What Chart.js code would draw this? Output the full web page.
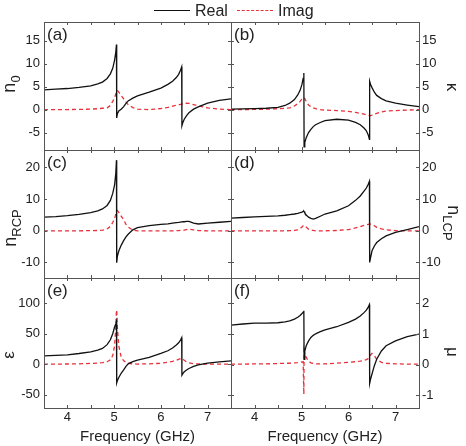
<!DOCTYPE html>
<html>
<head>
<meta charset="utf-8">
<script src="https://cdn.jsdelivr.net/npm/chart.js@4.4.0/dist/chart.umd.min.js"></script>
<style>
  body { margin: 0; background: #fff; }
  #wrap { position: relative; width: 466px; height: 446px; font-family: "Liberation Sans", Arial, sans-serif; color: #222; }
  #wrap canvas { position: absolute; left: 0; top: 0; }
  .ylab { position: absolute; white-space: nowrap; font-size: 18px; line-height: 1; transform: translate(-50%, -50%) rotate(-90deg); }
  .ylab.r { transform: translate(-50%, -50%) rotate(90deg); }
  .ylab sub { font-size: 13px; }
  .greek { font-size: 17px; }
  .leg { position: absolute; top: 2px; font-size: 16px; line-height: 18px; }
  .legline { position: absolute; top: 10px; width: 36px; height: 0; }
</style>
</head>
<body>
<div id="wrap">
  <canvas id="ca" width="466" height="446"></canvas>
  <canvas id="cb" width="466" height="446"></canvas>
  <canvas id="cc" width="466" height="446"></canvas>
  <canvas id="cd" width="466" height="446"></canvas>
  <canvas id="ce" width="466" height="446"></canvas>
  <canvas id="cf" width="466" height="446"></canvas>

  <div class="legline" style="left:154px; border-top:1.5px solid #111;"></div>
  <div class="leg" style="left:195px;">Real</div>
  <div class="legline" style="left:237px; border-top:1.5px dashed #e8313a;"></div>
  <div class="leg" style="left:278px;">Imag</div>

  <div class="ylab" style="left:11px; top:84px;">n<sub>0</sub></div>
  <div class="ylab" style="left:12px; top:228px;">n<sub>RCP</sub></div>
  <div class="ylab greek" style="left:8px; top:355px;">ε</div>
  <div class="ylab r greek" style="left:452px; top:87px;">κ</div>
  <div class="ylab r" style="left:452px; top:223px;">n<sub>LCP</sub></div>
  <div class="ylab r greek" style="left:452px; top:352px;">μ</div>
</div>
<script>
// frequency grid (GHz), shared by all panels
var freq = [3.5, 3.75, 4.0, 4.25, 4.5, 4.65, 4.75, 4.85, 4.92, 4.97,
            5.01, 5.035, 5.05, 5.055, 5.07, 5.1, 5.15, 5.2, 5.25, 5.3,
            5.4, 5.5, 5.75, 6.0, 6.15, 6.25, 6.33, 6.38, 6.42, 6.445,
            6.45, 6.47, 6.5, 6.55, 6.6, 6.7, 6.8, 7.0, 7.25, 7.5];

var n0Real = [4.3, 4.45, 4.6, 4.85, 5.2, 5.6, 6.0, 6.8, 7.8, 9.0,
              10.8, 12.5, 14.2, -1.8, -0.9, -0.3, 0.1, 0.6, 1.3, 1.9,
              2.5, 3.0, 3.8, 4.7, 5.5, 6.2, 7.0, 7.7, 8.6, 9.3,
              -3.5, -2.8, -2.1, -1.3, -0.7, 0.1, 0.6, 1.4, 2.0, 2.35];
var n0Imag = [0, 0, 0.02, 0.05, 0.1, 0.2, 0.3, 0.4, 0.9, 1.8,
              2.6, 3.4, 3.9, 4.0, 4.2, 3.8, 3.1, 2.4, 1.7, 1.1,
              0.45, 0.1, 0.0, 0.25, 0.5, 0.75, 0.95, 1.05, 1.15, 1.2,
              1.2, 1.25, 1.3, 1.4, 1.35, 1.1, 0.8, 0.4, 0.1, 0.0];

var kappaReal = [0.1, 0.15, 0.2, 0.3, 0.5, 0.9, 1.4, 2.2, 3.2, 4.2,
                 5.5, 6.8, 8.0, -8.1, -7.2, -6.1, -5.0, -4.3, -3.7, -3.3,
                 -2.8, -2.4, -2.1, -2.3, -2.8, -3.3, -4.0, -4.6, -5.5, -6.5,
                 6.2, 5.5, 4.8, 3.8, 3.1, 2.4, 1.9, 1.4, 1.0, 0.65];
var kappaImag = [0, 0, 0.05, 0.1, 0.2, 0.3, 0.4, 0.8, 1.3, 1.8,
                 2.3, 2.6, 2.6, 2.6, 2.4, 1.8, 1.0, 0.6, 0.4, 0.2,
                 0.0, -0.1, -0.2, -0.4, -0.6, -0.8, -1.0, -1.15, -1.25, -1.3,
                 -1.3, -1.3, -1.2, -1.0, -0.8, -0.5, -0.3, -0.2, -0.1, 0.0];

var nRcpReal = [4.3, 4.5, 4.8, 5.2, 5.7, 6.3, 6.9, 8.0, 9.6, 11.8,
                14.5, 18.0, 22.3, -10.1, -8.0, -6.4, -4.6, -3.2, -2.0, -1.1,
                0.3, 1.0, 1.6, 2.0, 2.2, 2.4, 2.55, 2.65, 2.75, 2.8,
                2.8, 2.85, 2.85, 2.95, 3.0, 2.4, 2.15, 2.4, 2.7, 2.95];
var nRcpImag = [0, 0, 0, 0, 0.05, 0.1, 0.2, 0.6, 1.4, 2.6,
                3.9, 5.2, 5.9, 6.1, 6.4, 5.8, 4.6, 3.6, 2.1, 1.2,
                0.2, 0, 0, 0, 0, 0, 0.05, 0.05, 0.1, 0.1,
                0.1, 0.15, 0.2, 0.4, 0.55, 0.3, 0.05, 0, 0, 0];

var nLcpReal = [4.0, 4.2, 4.4, 4.55, 4.7, 4.9, 5.1, 5.3, 5.5, 5.7,
                5.9, 6.1, 6.2, 6.1, 5.6, 5.0, 4.3, 3.9, 3.7, 3.9,
                4.6, 5.3, 6.3, 7.9, 9.6, 11.0, 12.5, 13.5, 14.7, 15.6,
                -10.0, -8.5, -6.3, -4.8, -3.7, -2.5, -1.6, -0.5, 0.4, 1.3];
var nLcpImag = [0, 0, 0, 0, 0, 0, 0.05, 0.1, 0.3, 0.7,
                1.2, 1.6, 1.7, 1.7, 1.6, 1.2, 0.5, 0.2, 0.1, 0,
                0, 0, 0.1, 0.4, 0.9, 1.3, 1.7, 1.9, 2.05, 2.1,
                2.1, 2.1, 2.0, 1.6, 1.1, 0.6, 0.3, 0.05, 0, 0];

var epsReal = [13.7, 14.5, 15.4, 17.5, 20.3, 23.0, 25.8, 32.0, 40.0, 50.0,
               61.0, 66.0, 70.0, -30.7, -27.0, -22.0, -15.0, -9.9, -4.0, 0.5,
               4.0, 6.6, 11.0, 17.6, 22.0, 26.5, 31.5, 35.0, 39.5, 43.4,
               -18.0, -15.5, -12.6, -9.5, -7.1, -3.5, -1.2, 1.6, 3.8, 5.5];
var epsImag = [0, 0, 0.3, 0.6, 1.2, 1.8, 2.5, 4.0, 7.0, 14.0,
               30.0, 60.0, 89.0, 89.0, 60.0, 30.0, 12.0, 6.0, 3.0, 1.5,
               0.5, 0.2, 0.5, 1.5, 3.0, 4.5, 6.5, 8.0, 9.0, 9.3,
               9.3, 8.5, 6.5, 3.5, 2.0, 0.8, 0.4, 0.1, 0, 0];

var muReal = [1.29, 1.33, 1.36, 1.36, 1.37, 1.40, 1.43, 1.49, 1.55, 1.61,
              1.67, 1.72, 1.76, 0.18, 0.45, 0.62, 0.78, 0.89, 0.96, 1.01,
              1.08, 1.14, 1.24, 1.38, 1.49, 1.59, 1.70, 1.78, 1.88, 1.96,
              -0.61, -0.47, -0.30, -0.03, 0.18, 0.45, 0.62, 0.78, 0.92, 1.0];
var muImag = [0.02, 0.02, 0.03, 0.03, 0.04, 0.05, 0.05, 0.06, 0.07, 0.08,
              0.09, 0.1, -0.96, 0.46, 0.35, 0.24, 0.12, 0.06, 0.04, 0.03,
              0.03, 0.03, 0.05, 0.08, 0.1, 0.12, 0.14, 0.17, 0.2, 0.24,
              0.26, 0.32, 0.37, 0.3, 0.18, 0.08, 0.05, 0.03, 0.02, 0.02];

// tick values
var freqTicks = [4, 5, 6, 7];
var freqMinor = [4, 4.5, 5, 5.5, 6, 6.5, 7];
var n0Ticks = [-5, 0, 5, 10, 15];
var nCpTicks = [-10, 0, 10, 20];
var epsTicks = [-50, 0, 50, 100];
var muTicks = [-1, 0, 1, 2];

var W = 466, H = 446;

var framePlugin = {
  id: 'frame',
  afterDatasetsDraw: function(chart, args, opts) {
    var ctx = chart.ctx, a = chart.chartArea;
    var x = chart.scales.x, y = chart.scales.y;
    ctx.save();
    ctx.strokeStyle = '#555';
    ctx.lineWidth = 1;
    ctx.strokeRect(a.left + 0.5, a.top + 0.5, a.right - a.left, a.bottom - a.top);
    ctx.beginPath();
    freqMinor.forEach(function(v) {
      var px = Math.round(x.getPixelForValue(v)) + 0.5;
      ctx.moveTo(px, a.top); ctx.lineTo(px, a.top + 3);
      ctx.moveTo(px, a.bottom); ctx.lineTo(px, a.bottom - 3);
    });
    opts.ticks.forEach(function(v) {
      var py = Math.round(y.getPixelForValue(v)) + 0.5;
      ctx.moveTo(a.left, py); ctx.lineTo(a.left + 3, py);
      ctx.moveTo(a.right, py); ctx.lineTo(a.right - 3, py);
    });
    ctx.stroke();
    ctx.fillStyle = '#222';
    ctx.font = '17px "Liberation Sans", Arial, sans-serif';
    ctx.textBaseline = 'top';
    ctx.fillText(opts.label, a.left + 3, a.top + 5);
    ctx.restore();
  }
};

function makePanel(id, label, real, imag, yMin, yMax, ticks, side, box, showX) {
  var pts = function(arr) { return freq.map(function(f, i) { return { x: f, y: arr[i] }; }); };
  var pad = {
    left: side === 'left' ? 0 : box[0],
    right: side === 'right' ? 0 : W - box[2],
    top: box[1],
    bottom: showX ? 0 : H - box[3]
  };
  return new Chart(document.getElementById(id).getContext('2d'), {
    type: 'line',
    data: {
      datasets: [
        { data: pts(real), borderColor: '#111', borderWidth: 1.3, pointRadius: 0, tension: 0 },
        { data: pts(imag), borderColor: '#e8313a', borderWidth: 1.3, borderDash: [4, 3], pointRadius: 0, tension: 0 }
      ]
    },
    options: {
      responsive: false,
      animation: false,
      events: [],
      layout: { padding: pad },
      plugins: {
        legend: { display: false },
        tooltip: { enabled: false },
        frame: { label: label, ticks: ticks }
      },
      scales: {
        x: {
          type: 'linear', min: 3.5, max: 7.5,
          display: showX,
          grid: { display: false, drawTicks: false },
          border: { display: false },
          afterBuildTicks: function(s) { s.ticks = freqTicks.map(function(v) { return { value: v }; }); },
          afterFit: function(s) { s.height = showX ? H - box[3] : 0; },
          ticks: { color: '#222', font: { size: 13, family: '"Liberation Sans", Arial' }, padding: 2, maxRotation: 0 },
          title: { display: true, text: 'Frequency (GHz)', color: '#222', font: { size: 15, family: '"Liberation Sans", Arial' }, padding: 0 }
        },
        y: {
          type: 'linear', position: side, min: yMin, max: yMax,
          grid: { display: false, drawTicks: false },
          border: { display: false },
          afterBuildTicks: function(s) { s.ticks = ticks.map(function(v) { return { value: v }; }); },
          afterFit: function(s) { s.width = side === 'left' ? box[0] : W - box[2]; },
          ticks: { color: '#222', font: { size: 13, family: '"Liberation Sans", Arial' }, padding: side === 'left' ? 4 : 3 }
        }
      }
    },
    plugins: [framePlugin]
  });
}

makePanel('ca', '(a)', n0Real, n0Imag, -8.8, 19.1, n0Ticks, 'left', [44, 22, 231, 150], false);
makePanel('cb', '(b)', kappaReal, kappaImag, -8.8, 19.1, n0Ticks, 'right', [231, 22, 419, 150], false);
makePanel('cc', '(c)', nRcpReal, nRcpImag, -14.9, 25.5, nCpTicks, 'left', [44, 150, 231, 278], false);
makePanel('cd', '(d)', nLcpReal, nLcpImag, -14.9, 25.5, nCpTicks, 'right', [231, 150, 419, 278], false);
makePanel('ce', '(e)', epsReal, epsImag, -72, 141.5, epsTicks, 'left', [44, 278, 231, 408], true);
makePanel('cf', '(f)', muReal, muImag, -1.41, 2.83, muTicks, 'right', [231, 278, 419, 408], true);
</script>
</body>
</html>
